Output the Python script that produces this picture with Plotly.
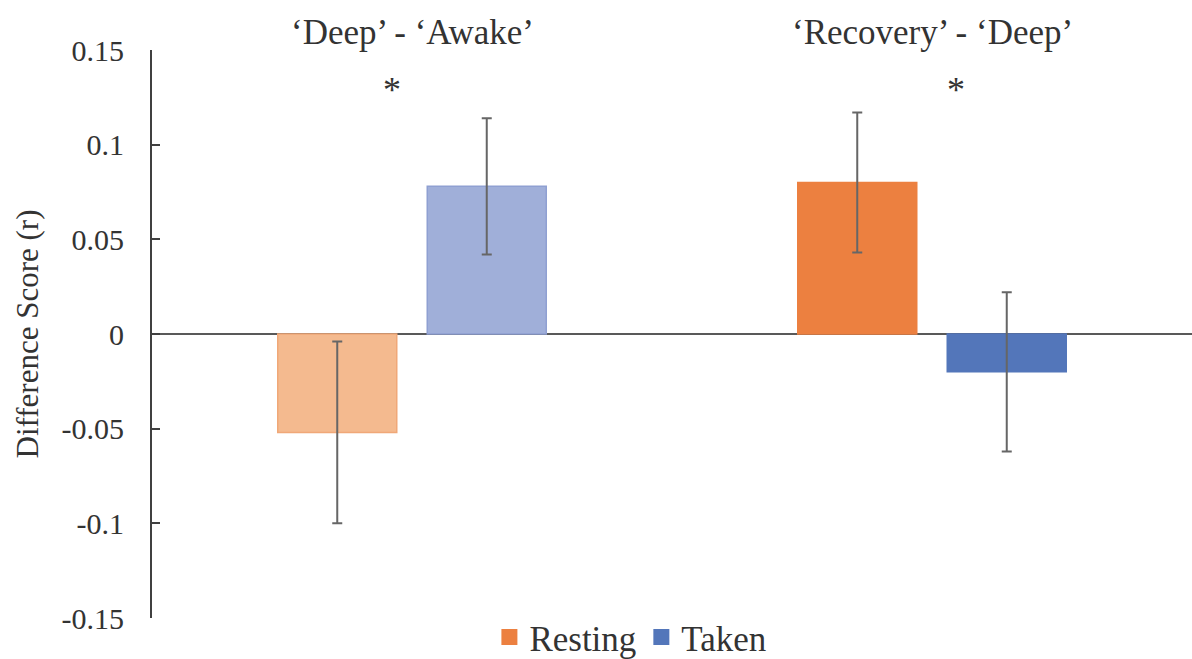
import plotly.graph_objects as go

# Contrast categories and per-condition difference scores
categories = ["\u2018Deep\u2019 - \u2018Awake\u2019", "\u2018Recovery\u2019 - \u2018Deep\u2019"]
resting_values = [-0.052, 0.080]
resting_errors = [0.048, 0.037]
taken_values = [0.078, -0.020]
taken_errors = [0.036, 0.042]
y_ticks = [-0.15, -0.1, -0.05, 0, 0.05, 0.1, 0.15]
y_tick_labels = ["-0.15", "-0.1", "-0.05", "0", "0.05", "0.1", "0.15"]

FONT = "Liberation Serif"
TEXT = "#333333"

resting_fill = ["#F4BA8F", "#EC8040"]
resting_edge = ["#F0A878", "#EC8040"]
taken_fill = ["#A0AFD9", "#5376BA"]
taken_edge = ["#8FA0D2", "#5376BA"]

err_style = dict(type="data", visible=True, color="#666666", thickness=2, width=5)

fig = go.Figure()
fig.add_trace(go.Bar(
    name="Resting", x=categories, y=resting_values, showlegend=False,
    marker=dict(color=resting_fill, line=dict(color=resting_edge, width=1.5)),
    error_y=dict(array=resting_errors, **err_style),
))
fig.add_trace(go.Bar(
    name="Taken", x=categories, y=taken_values, showlegend=False,
    marker=dict(color=taken_fill, line=dict(color=taken_edge, width=1.5)),
    error_y=dict(array=taken_errors, **err_style),
))

# Legend entries: square swatches in the saturated colours
for name, col in [("Resting", "#EC8040"), ("Taken", "#5376BA")]:
    fig.add_trace(go.Scatter(name=name, x=[None], y=[None], mode="markers",
                             marker=dict(symbol="square", size=19, color=col)))

annotations = []
for cat in categories:
    annotations.append(dict(x=cat, y=1.03, xref="x", yref="paper", yanchor="middle",
                            text=cat, showarrow=False,
                            font=dict(family=FONT, size=35, color=TEXT)))
annotations.append(dict(x=categories[0], y=0.129, xref="x", yref="y", text="*", xshift=-20,
                        showarrow=False, font=dict(family=FONT, size=36, color=TEXT)))
annotations.append(dict(x=categories[1], y=0.129, xref="x", yref="y", text="*", xshift=24,
                        showarrow=False, font=dict(family=FONT, size=36, color=TEXT)))

fig.update_layout(
    width=1192, height=659,
    margin=dict(l=152, r=0, t=50, b=41, autoexpand=False),
    paper_bgcolor="white", plot_bgcolor="white",
    barmode="group", bargap=0.425, bargroupgap=0.204,
    font=dict(family=FONT, color=TEXT, size=30),
    showlegend=True,
    legend=dict(orientation="h", x=0.46, xanchor="center", y=0.018, yanchor="top",
                font=dict(family=FONT, size=35, color=TEXT), itemwidth=30,
                traceorder="normal", tracegroupgap=0, bgcolor="rgba(0,0,0,0)"),
    annotations=annotations,
)
fig.update_xaxes(showticklabels=False, showline=False, showgrid=False, zeroline=False,
                 range=[-0.5, 1.5])
fig.update_yaxes(
    range=[-0.15, 0.15], tickvals=y_ticks, ticktext=y_tick_labels,
    showgrid=False, zeroline=True, zerolinecolor="#595959", zerolinewidth=1.5,
    showline=True, linecolor="#404040", linewidth=2,
    ticks="inside", ticklen=8, tickwidth=2, tickcolor="#404040",
    ticklabelstandoff=20,
    tickfont=dict(family=FONT, size=30, color=TEXT),
    title=dict(text="Difference Score (r)", font=dict(family=FONT, size=31, color=TEXT), standoff=14),
)

fig.write_html("out.html")
